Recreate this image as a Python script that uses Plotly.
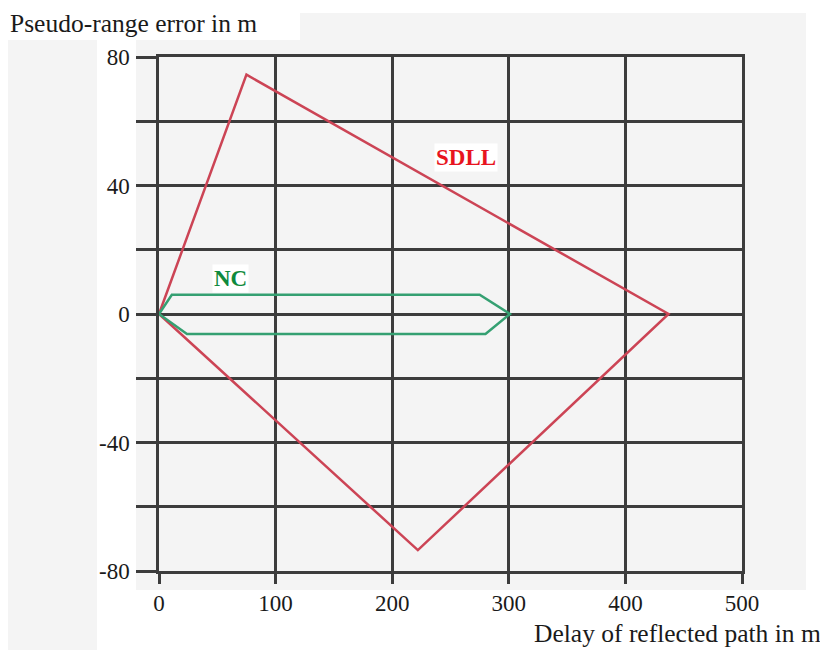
import plotly.graph_objects as go

# SDLL error envelope (closed polygon)
sdll_x = [0, 75, 437, 222, 0]
sdll_y = [0, 74.5, 0, -73.5, 0]

# NC error envelope (closed polygon)
nc_x = [0, 11, 275, 301, 280, 24, 0]
nc_y = [0, 6, 6, 0, -6.2, -6.2, 0]

x_ticks = [0, 100, 200, 300, 400, 500]
y_ticks = [-80, -60, -40, -20, 0, 20, 40, 60, 80]
y_tick_text = ["-80", "", "-40", "", "0", "", "40", "", "80"]

FONT = "Liberation Serif"
GRID = "#3c3c3c"
BG = "#f4f4f4"

# the page has an 8px body margin, so the figure is drawn offset by 8px
OFF = 8
W, H = 828 - OFF, 650 - OFF
L, R, T, B = 159 - OFF, 742 - OFF, 57 - OFF, 571 - OFF  # plot area in figure px

fig = go.Figure()
fig.add_trace(go.Scatter(x=sdll_x, y=sdll_y, mode="lines",
                         line=dict(color="#cc4455", width=2.5), showlegend=False))
fig.add_trace(go.Scatter(x=nc_x, y=nc_y, mode="lines",
                         line=dict(color="#35a072", width=2.5), showlegend=False))

def px(x):
    return (x - OFF - L) / float(R - L)

def py(y):
    return (B - (y - OFF)) / float(B - T)

shapes = [
    dict(type="rect", xref="paper", yref="paper", x0=px(OFF), x1=px(806), y0=py(590), y1=py(13),
         fillcolor=BG, line=dict(width=0), layer="below"),
    dict(type="rect", xref="paper", yref="paper", x0=px(OFF), x1=px(97), y0=py(650), y1=py(590),
         fillcolor=BG, line=dict(width=0), layer="below"),
    dict(type="rect", xref="paper", yref="paper", x0=px(97), x1=px(136), y0=py(590), y1=py(40),
         fillcolor="white", line=dict(width=0), layer="below"),
    dict(type="rect", xref="paper", yref="paper", x0=px(OFF), x1=px(300), y0=py(40), y1=py(OFF),
         fillcolor="white", line=dict(width=0), layer="below"),
]

annotations = [
    dict(text="Pseudo-range error in m", xref="paper", yref="paper", x=px(8), y=py(23),
         xanchor="left", yanchor="middle", showarrow=False,
         font=dict(family=FONT, size=25.5, color="#1a1a1a")),
    dict(text="Delay of reflected path in m", xref="paper", yref="paper", x=px(823), y=py(633),
         xanchor="right", yanchor="middle", showarrow=False,
         font=dict(family=FONT, size=25.5, color="#1a1a1a")),
    dict(text="<b>SDLL</b>", x=263, y=48.6, xref="x", yref="y", showarrow=False,
         bgcolor="white", font=dict(family=FONT, size=23, color="#e8141e")),
    dict(text="<b>NC</b>", x=61, y=11, xref="x", yref="y", showarrow=False,
         bgcolor="white", font=dict(family=FONT, size=23, color="#0f8a3c")),
]

fig.update_layout(
    width=W, height=H,
    margin=dict(l=L, r=W - R, t=T, b=H - B, autoexpand=False),
    paper_bgcolor="white", plot_bgcolor=BG,
    shapes=shapes, annotations=annotations,
    font=dict(family=FONT, size=23, color="#1a1a1a"),
)
fig.update_xaxes(range=[0, 500], tickvals=x_ticks, showgrid=True, gridcolor=GRID, gridwidth=2.5,
                 zeroline=False, showline=True, mirror=True, linecolor=GRID, linewidth=2.5,
                 ticks="outside", ticklen=10, tickwidth=2.5, tickcolor=GRID,
                 ticklabelstandoff=0, tickfont=dict(family=FONT, size=23, color="#1a1a1a"))
fig.update_yaxes(range=[-80, 80], tickvals=y_ticks, ticktext=y_tick_text, showgrid=True,
                 gridcolor=GRID, gridwidth=2.5, zeroline=False, showline=True, mirror=True,
                 linecolor=GRID, linewidth=2.5, ticks="outside", ticklen=20, tickwidth=2.5,
                 tickcolor=GRID, ticklabelstandoff=2,
                 tickfont=dict(family=FONT, size=23, color="#1a1a1a"))

fig.write_html("out.html")
